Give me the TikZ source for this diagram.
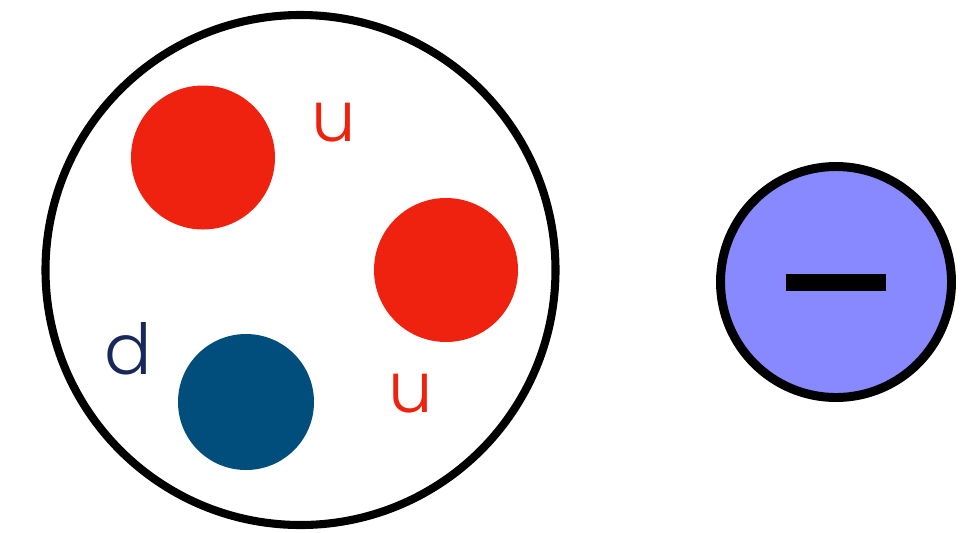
\documentclass[tikz,border=0pt]{standalone}
\usepackage{fontspec}
\newfontfamily\quarkfont{Poppins Light}
\definecolor{upred}{RGB}{238,34,14}
\definecolor{downblue}{RGB}{1,78,125}
\definecolor{downlabel}{RGB}{25,40,90}
\definecolor{electronfill}{RGB}{136,136,255}
\tikzset{
  quarklabel/.style={inner sep=0pt, anchor=base, font=\quarkfont\fontsize{40}{40}\selectfont}
}
\begin{document}
\begin{tikzpicture}[x=0.02cm, y=-0.02cm]
    \useasboundingbox (0,0) rectangle (963,532);

    % Proton
    \draw[line width=4.6pt, black] (300.5,270) circle (255);

    % Quarks
    \fill[upred] (203,157.5) circle (72);
    \fill[upred] (446,270) circle (72);
    \fill[downblue] (246,402) circle (68);

    % Quark labels
    \node[quarklabel, text=upred] (labelu1) at (334,141) {u};
    \node[quarklabel, text=upred] (labelu2) at (411,412) {u};
    \node[quarklabel, text=downlabel] (labeld) at (128,374) {d};

    % Electron
    \draw[line width=5.1pt, black, fill=electronfill] (836,282) circle (115.5);
    \fill[black] (786,274) rectangle (886,291);
\end{tikzpicture}
\end{document}
